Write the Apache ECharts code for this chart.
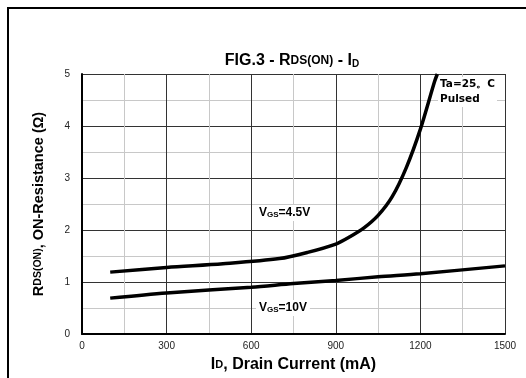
<!DOCTYPE html>
<html>
<head>
<meta charset="utf-8">
<script src="https://cdn.jsdelivr.net/npm/echarts@6/dist/echarts.min.js"></script>
<style>
  html, body { margin: 0; padding: 0; background: #fff; }
  #chart { width: 526px; height: 378px; }
</style>
</head>
<body>
<div id="chart"></div>
<script>
// drain current (mA) vs on-resistance (ohm)
const idVgs45 = [100, 300, 500, 700, 800, 900, 950, 1000, 1050, 1100, 1150, 1200, 1250, 1260];
const rVgs45 = [1.19, 1.28, 1.35, 1.45, 1.57, 1.73, 1.87, 2.04, 2.28, 2.64, 3.2, 3.94, 4.85, 5.0];
const idVgs10 = [100, 300, 600, 750, 900, 1050, 1200, 1500];
const rVgs10 = [0.69, 0.79, 0.90, 0.97, 1.03, 1.10, 1.16, 1.31];

const xTicks = [0, 300, 600, 900, 1200, 1500];
const yTicks = [0, 1, 2, 3, 4, 5];

const pairs = (xs, ys) => xs.map((x, i) => [x, ys[i]]);

const chart = echarts.init(document.getElementById('chart'));
const font = 'Liberation Sans, Arial, sans-serif';
const bold = (size, extra) => Object.assign({fontSize: size, fontWeight: 'bold', color: '#000', fontFamily: font}, extra || {});
const boldFill = (size, extra) => Object.assign({fontSize: size, fontWeight: 'bold', fill: '#000', fontFamily: font}, extra || {});

chart.setOption({
    animation: false,
    textStyle: {fontFamily: font},
    title: {
        text: '{b|FIG.3 - R}{s|DS(ON)}{b| - I}{sub|D}',
        left: 287,
        textAlign: 'center',
        top: 47,
        textStyle: {
            rich: {
                b: bold(16),
                s: bold(12),
                sub: bold(10, {padding: [7, 0, 0, 0]})
            }
        }
    },
    grid: {left: 82, right: 21, top: 74, bottom: 44},
    xAxis: {
        type: 'value',
        min: xTicks[0],
        max: xTicks[xTicks.length - 1],
        interval: 300,
        name: '{b|I}{s|D}{b|, Drain Current (mA)}',
        nameLocation: 'middle',
        nameGap: 23,
        nameTextStyle: {
            rich: {b: bold(16), s: bold(11)}
        },
        axisLine: {lineStyle: {color: '#000', width: 2}},
        axisTick: {show: false},
        axisLabel: {color: '#222', fontSize: 10, margin: 7, formatter: v => String(v)},
        splitLine: {lineStyle: {color: '#333', width: 1}},
        minorTick: {show: false, splitNumber: 2},
        minorSplitLine: {show: true, lineStyle: {color: '#c8c8c8', width: 1}}
    },
    yAxis: {
        type: 'value',
        min: yTicks[0],
        max: yTicks[yTicks.length - 1],
        interval: 1,
        name: '{b|R}{s|DS(ON)}{b|, ON-Resistance (Ω)}',
        nameLocation: 'middle',
        nameRotate: 90,
        nameGap: 36,
        nameTextStyle: {
            rich: {b: bold(14.5), s: bold(10.5)}
        },
        axisLine: {show: true, lineStyle: {color: '#000', width: 2}},
        axisTick: {show: false},
        axisLabel: {color: '#222', fontSize: 10, margin: 12},
        splitLine: {lineStyle: {color: '#333', width: 1}},
        minorTick: {show: false, splitNumber: 2},
        minorSplitLine: {show: true, lineStyle: {color: '#c8c8c8', width: 1}}
    },
    series: [
        {
            name: 'VGS=4.5V',
            type: 'line',
            data: pairs(idVgs45, rVgs45),
            smooth: 0.3,
            showSymbol: false,
            lineStyle: {color: '#000', width: 3.5}
        },
        {
            name: 'VGS=10V',
            type: 'line',
            data: pairs(idVgs10, rVgs10),
            smooth: 0.3,
            showSymbol: false,
            lineStyle: {color: '#000', width: 3.5}
        }
    ],
    graphic: [
        {
            type: 'polyline',
            shape: {points: [[8, 400], [8, 8], [600, 8]]},
            style: {fill: 'none', stroke: '#000', lineWidth: 2},
            silent: true
        },
        {
            type: 'text', left: 256, top: 205, z: 100,
            style: {
                text: '{b|V}{s|GS}{b|=4.5V}',
                backgroundColor: '#fff',
                padding: [2, 3],
                rich: {b: boldFill(12), s: boldFill(8, {padding: [4, 0, 0, 0]})}
            }
        },
        {
            type: 'text', left: 256, top: 300, z: 100,
            style: {
                text: '{b|V}{s|GS}{b|=10V}',
                backgroundColor: '#fff',
                padding: [2, 3],
                rich: {b: boldFill(12), s: boldFill(8, {padding: [4, 0, 0, 0]})}
            }
        },
        {
            type: 'text', left: 438, top: 77, z: 100,
            style: {
                text: 'Ta=25。C\nPulsed',
                font: 'bold 10.5px DejaVu Sans, sans-serif',
                lineHeight: 15,
                backgroundColor: '#fff',
                padding: [0, 2],
                fill: '#000'
            }
        }
    ]
});
</script>
</body>
</html>
